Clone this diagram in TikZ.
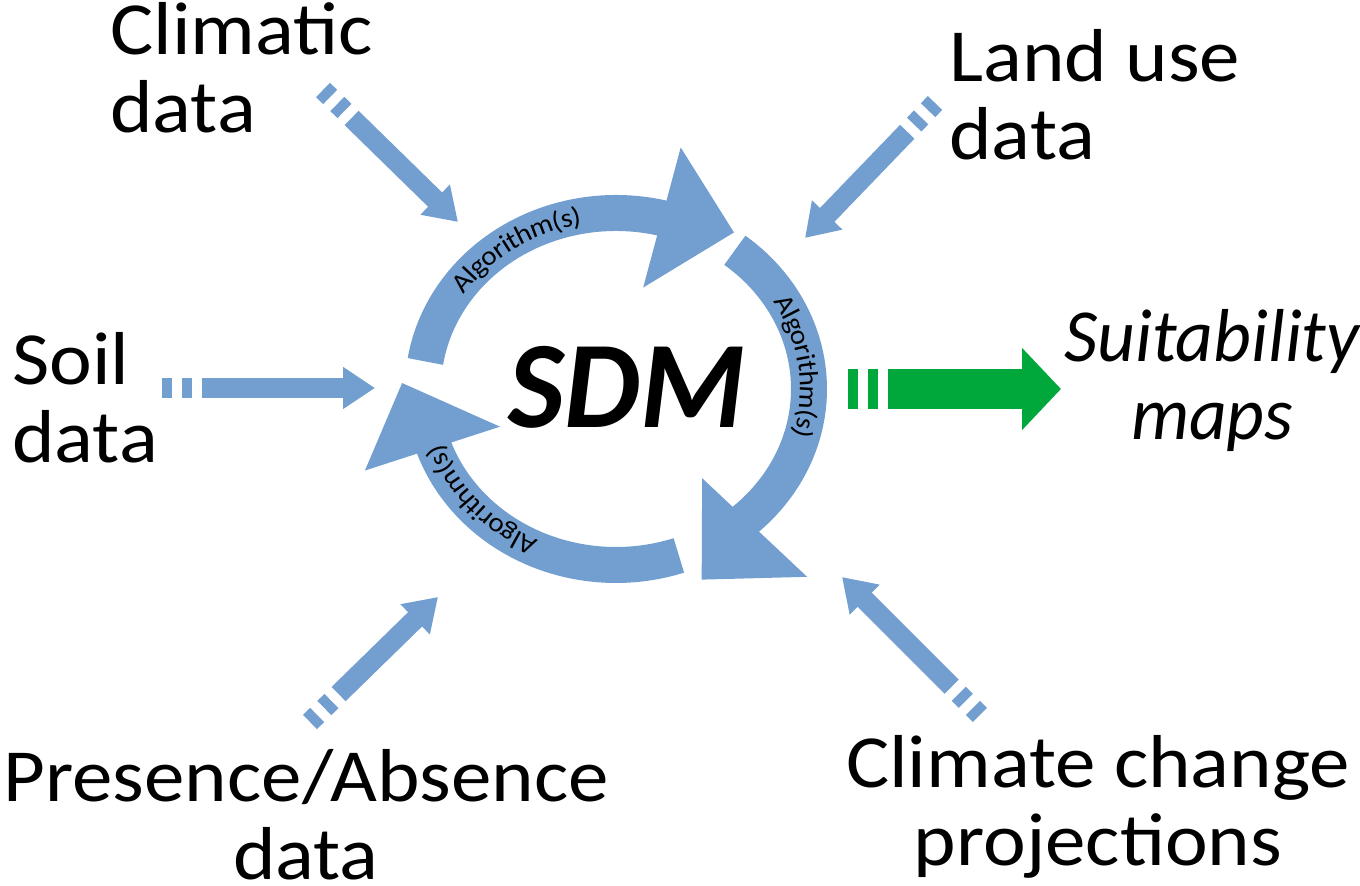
\documentclass[tikz,border=0pt]{standalone}
\usepackage{fontspec}
\setmainfont{Carlito}[FakeStretch=1.08]
\newfontfamily\sdmfont{Carlito}[FakeStretch=0.97]
\newfontfamily\suitfont{Carlito}[FakeStretch=0.98]
\usepackage{tikz}
\usetikzlibrary{arrows.meta,calc,decorations.text}
\definecolor{sdmblue}{RGB}{114,159,207}
\definecolor{sdmgreen}{RGB}{0,168,60}

\begin{document}
\begin{tikzpicture}[x=0.5pt,y=0.5pt]

  % Define styles
  \tikzset{datalabel/.style={inner sep=0pt, font=\fontsize{37.5}{39}\selectfont}}
  \tikzset{inarrow/.style={draw=sdmblue, line width=10pt, dash pattern=on 5pt off 5pt on 5pt off 5pt on 400pt off 0pt, -{Triangle[width=20pt,length=16pt]}}}
  \tikzset{outarrow/.style={draw=sdmgreen, line width=20pt, dash pattern=on 5pt off 5pt on 5pt off 5pt on 400pt off 0pt, -{Triangle[width=40pt,length=19.5pt]}}}
  \tikzset{ring/.style={draw=sdmblue, line width=18pt}}
  \tikzset{ringtext/.style={decorate, decoration={text along path, text align=center, raise=-4.3pt, text={|\fontsize{13.5}{15}\selectfont|Algorithm(s)}}}}

  \useasboundingbox (0,0) rectangle (1360,886);

  % Cycle
  \coordinate (c) at (616,497);
  \draw[ring] ($(c)+(171:193 and 176)$) arc[start angle=171, end angle=73, x radius=193, y radius=176];
  \fill[sdmblue] ($(c)+(75:250)$) -- ($(c)+(53:196)$) -- ($(c)+(75:105)$) -- cycle;
  \draw[ring] ($(c)+(52:193 and 176)$) arc[start angle=52, end angle=-51, x radius=193, y radius=176];
  \fill[sdmblue] ($(c)+(-44.5:268)$) -- ($(c)+(-65.8:209)$) -- ($(c)+(-46:124)$) -- cycle;
  \draw[ring] ($(c)+(-71:193 and 176)$) arc[start angle=-71, end angle=-164, x radius=193, y radius=176];
  \fill[sdmblue] ($(c)+(198:264)$) -- ($(c)+(178.4:214)$) -- ($(c)+(198:122)$) -- cycle;
  \path[ringtext] ($(c)+(160:193 and 176)$) arc[start angle=160, end angle=87, x radius=193, y radius=176];
  \path[ringtext] ($(c)+(45:193 and 176)$) arc[start angle=45, end angle=-30, x radius=193, y radius=176];
  \path[ringtext] ($(c)+(-100:193 and 176)$) arc[start angle=-100, end angle=-177, x radius=193, y radius=176];

  % Nodes
  \node[font=\fontsize{62}{62}\sdmfont\bfseries\itshape, anchor=base] (sdm) at (627,458) {SDM};
  \node[datalabel, anchor=base west, align=left] (climatic) at (110,753) {Climatic\\data};
  \node[datalabel, anchor=base west, align=left] (landuse) at (949,726) {Land use\\data};
  \node[datalabel, anchor=base west, align=left] (soil) at (12,423) {Soil\\data};
  \node[datalabel, font=\fontsize{37.5}{39}\suitfont\itshape, anchor=base, align=center] (suit) at (1212,446) {Suitability\\maps};
  \node[datalabel, anchor=base, align=center] (presence) at (306,6) {Presence/Absence\\data};
  \node[datalabel, anchor=base, align=center] (climchange) at (1098,20) {Climate change\\projections};

  % Arrow ends
  \coordinate (soiltail) at (162,498);
  \coordinate (soiltip) at (375,498);
  \coordinate (climtail) at (323,796);
  \coordinate (climtip) at (458,664);
  \coordinate (landtail) at (935,783);
  \coordinate (landtip) at (805,648);
  \coordinate (prestail) at (310,164);
  \coordinate (prestip) at (438,289);
  \coordinate (changetail) at (980,171);
  \coordinate (changetip) at (842,309);
  \coordinate (suittail) at (848,497);
  \coordinate (suittip) at (1061,497);

  % Arrows
  \draw[inarrow] (soiltail) -- (soiltip);
  \draw[inarrow] (climtail) -- (climtip);
  \draw[inarrow] (landtail) -- (landtip);
  \draw[inarrow] (prestail) -- (prestip);
  \draw[inarrow] (changetail) -- (changetip);
  \draw[outarrow] (suittail) -- (suittip);

\end{tikzpicture}
\end{document}
